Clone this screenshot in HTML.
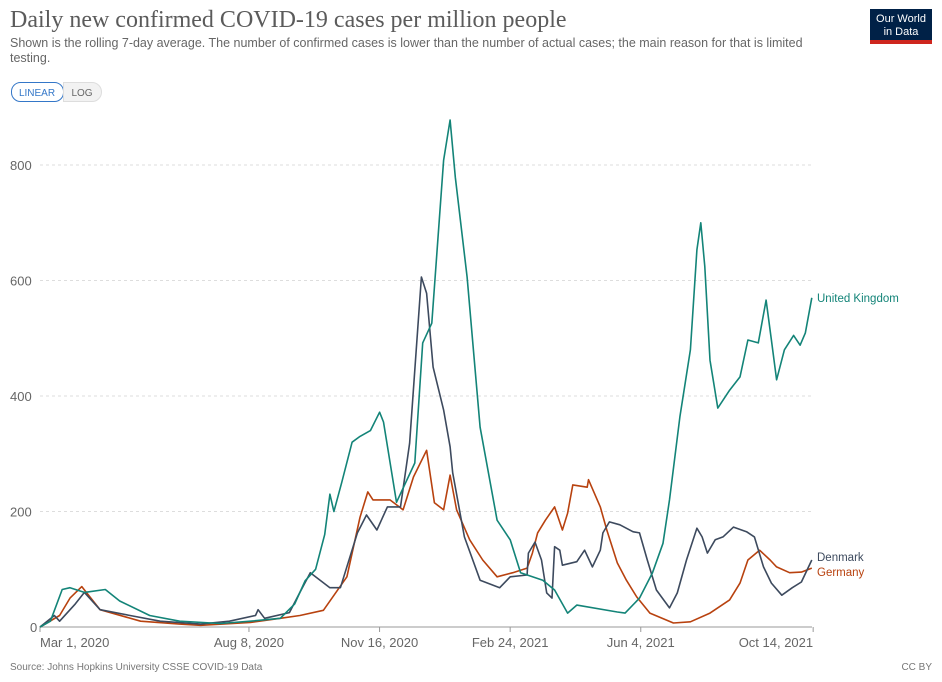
<!DOCTYPE html>
<html><head><meta charset="utf-8"><style>
body{margin:0;background:#fff;width:942px;height:682px;overflow:hidden;font-family:"Liberation Sans",sans-serif;}
svg{position:absolute;left:0;top:0}
</style></head><body>
<svg width="942" height="682">
<text x="10" y="27" font-family="Liberation Serif,serif" font-size="24" fill="#5b5b5b">Daily new confirmed COVID-19 cases per million people</text>
<text x="10" y="47" font-size="12.5" fill="#666">Shown is the rolling 7-day average. The number of confirmed cases is lower than the number of actual cases; the main reason for that is limited</text>
<text x="10" y="62" font-size="12.5" fill="#666">testing.</text>
<g><rect x="11.5" y="82.5" width="52" height="19" rx="9" fill="#fff" stroke="#3477c8"/><text x="37" y="96" font-size="10" fill="#3477c8" text-anchor="middle">LINEAR</text></g>
<g><path d="M63.5 82.5 H92 a9.5 9.5 0 0 1 0 19 H63.5 Z" fill="#f2f2f2" stroke="#ddd"/><text x="82" y="96" font-size="10" fill="#666" text-anchor="middle">LOG</text></g>
<g><rect x="870" y="9" width="62" height="35" fill="#002147"/><rect x="870" y="40" width="62" height="4" fill="#ce261e"/><text x="901" y="22" font-size="11" fill="#fff" text-anchor="middle">Our World</text><text x="901" y="35" font-size="11" fill="#fff" text-anchor="middle">in Data</text></g>
<g id="grid"></g><g id="lines"></g>
<text x="10" y="670" font-size="10" fill="#777">Source: Johns Hopkins University CSSE COVID-19 Data</text>
<text x="932" y="670" font-size="10" fill="#777" text-anchor="end">CC BY</text>
</svg>
<script>
const yTicks=[0,200,400,600,800];
const xTickDays=[0,160,260,360,460,592];
const xTickLabels=["Mar 1, 2020","Aug 8, 2020","Nov 16, 2020","Feb 24, 2021","Jun 4, 2021","Oct 14, 2021"];
const ukDays=[0,8,17,23,34,50,61,84,107,138,161,184,195,203,211,218,222,225,231,239,245,253,260,263,273,287,293,300,309,314,318,327,337,350,360,368,385,394,404,411,442,448,459,469,477,482,490,498,503,506,509,513,519,528,536,542,550,556,560,564,570,577,582,586,591];
const ukVals=[0,10,65,68,60,65,45,20,10,6,10,15,40,80,100,160,230,200,250,320,330,340,372,355,216,284,492,526,808,878,779,606,346,185,151,94,81,64,24,38,26,24,50,94,145,220,364,480,653,700,624,462,379,410,433,497,492,566,497,428,480,505,488,509,570];
const dkDays=[0,11,15,27,34,46,69,92,123,145,165,167,172,191,199,207,222,230,243,250,258,266,276,283,292,296,301,309,314,316,325,337,352,360,373,374,379,384,388,392,394,398,400,411,417,423,429,431,436,444,454,459,465,472,482,488,495,503,507,511,517,523,531,541,547,554,560,568,576,583,591];
const dkVals=[0,20,10,40,60,30,20,10,5,10,20,30,15,25,60,94,68,68,163,194,168,208,208,318,606,578,450,376,312,267,156,81,68,87,90,128,147,116,59,50,139,133,107,113,133,104,133,163,182,177,165,163,116,64,33,59,116,171,156,128,151,156,173,165,156,104,76,55,68,78,116];
const deDays=[0,15,23,32,46,77,107,123,161,184,199,217,235,245,251,255,268,278,286,296,302,309,314,319,329,339,350,362,373,377,381,387,394,400,404,408,419,420,429,434,442,449,457,467,485,498,513,528,536,542,551,559,564,574,583,591];
const deVals=[0,20,50,70,30,10,5,3,8,15,20,29,87,190,234,220,220,203,260,306,215,203,263,203,151,116,87,94,102,128,163,185,208,168,197,246,242,255,208,168,111,81,52,24,7,9,24,47,76,116,133,116,104,94,95,102];
const NS="http://www.w3.org/2000/svg";
const x=d=>40+d*1.306, y=v=>627-v*0.5775;
const grid=document.getElementById('grid'), lines=document.getElementById('lines');
yTicks.forEach(t=>{
 const l=document.createElementNS(NS,'line');
 l.setAttribute('x1',40);l.setAttribute('x2',812);l.setAttribute('y1',y(t));l.setAttribute('y2',y(t));
 l.setAttribute('stroke',t===0?'#999':'#ddd');if(t)l.setAttribute('stroke-dasharray','3,3');
 
 
 grid.appendChild(l);
 const tx=document.createElementNS(NS,'text');
 tx.setAttribute('x',t===0?30:10);tx.setAttribute('y',y(t)+5);tx.setAttribute('font-size','13');tx.setAttribute('fill','#666');
 tx.textContent=t;
 
 
 grid.appendChild(tx);
});
xTickDays.forEach((d,i)=>{
 const l=document.createElementNS(NS,'line');
 l.setAttribute('x1',x(d));l.setAttribute('x2',x(d));l.setAttribute('y1',627);l.setAttribute('y2',632);l.setAttribute('stroke','#999');
 
 
 grid.appendChild(l);
 const tx=document.createElementNS(NS,'text');
 const anchor=i===0?'start':(i===xTickDays.length-1?'end':'middle');
 tx.setAttribute('x',x(d));tx.setAttribute('y',647);tx.setAttribute('font-size','13');tx.setAttribute('fill','#666');tx.setAttribute('text-anchor',anchor);
 tx.textContent=xTickLabels[i];
 
 
 grid.appendChild(tx);
});
function series(days,vals,color,name,label,ly){
 const p=document.createElementNS(NS,'path');
 p.setAttribute('d',days.map((d,i)=>(i?'L':'M')+x(d).toFixed(1)+' '+y(vals[i]).toFixed(1)).join(''));
 p.setAttribute('fill','none');p.setAttribute('stroke',color);p.setAttribute('stroke-width','1.6');p.setAttribute('stroke-linejoin','round');
 
 
 lines.appendChild(p);
 const t=document.createElementNS(NS,'text');
 t.setAttribute('x',817);t.setAttribute('y',ly);t.setAttribute('font-size','11.5');t.setAttribute('fill',color);
 t.textContent=label;
 
 
 lines.appendChild(t);
}
series(deDays,deVals,'#b8420f','line-germany','Germany',576);
series(dkDays,dkVals,'#3d4a5e','line-denmark','Denmark',561);
series(ukDays,ukVals,'#138478','line-united-kingdom','United Kingdom',302);
</script>
</body></html>
